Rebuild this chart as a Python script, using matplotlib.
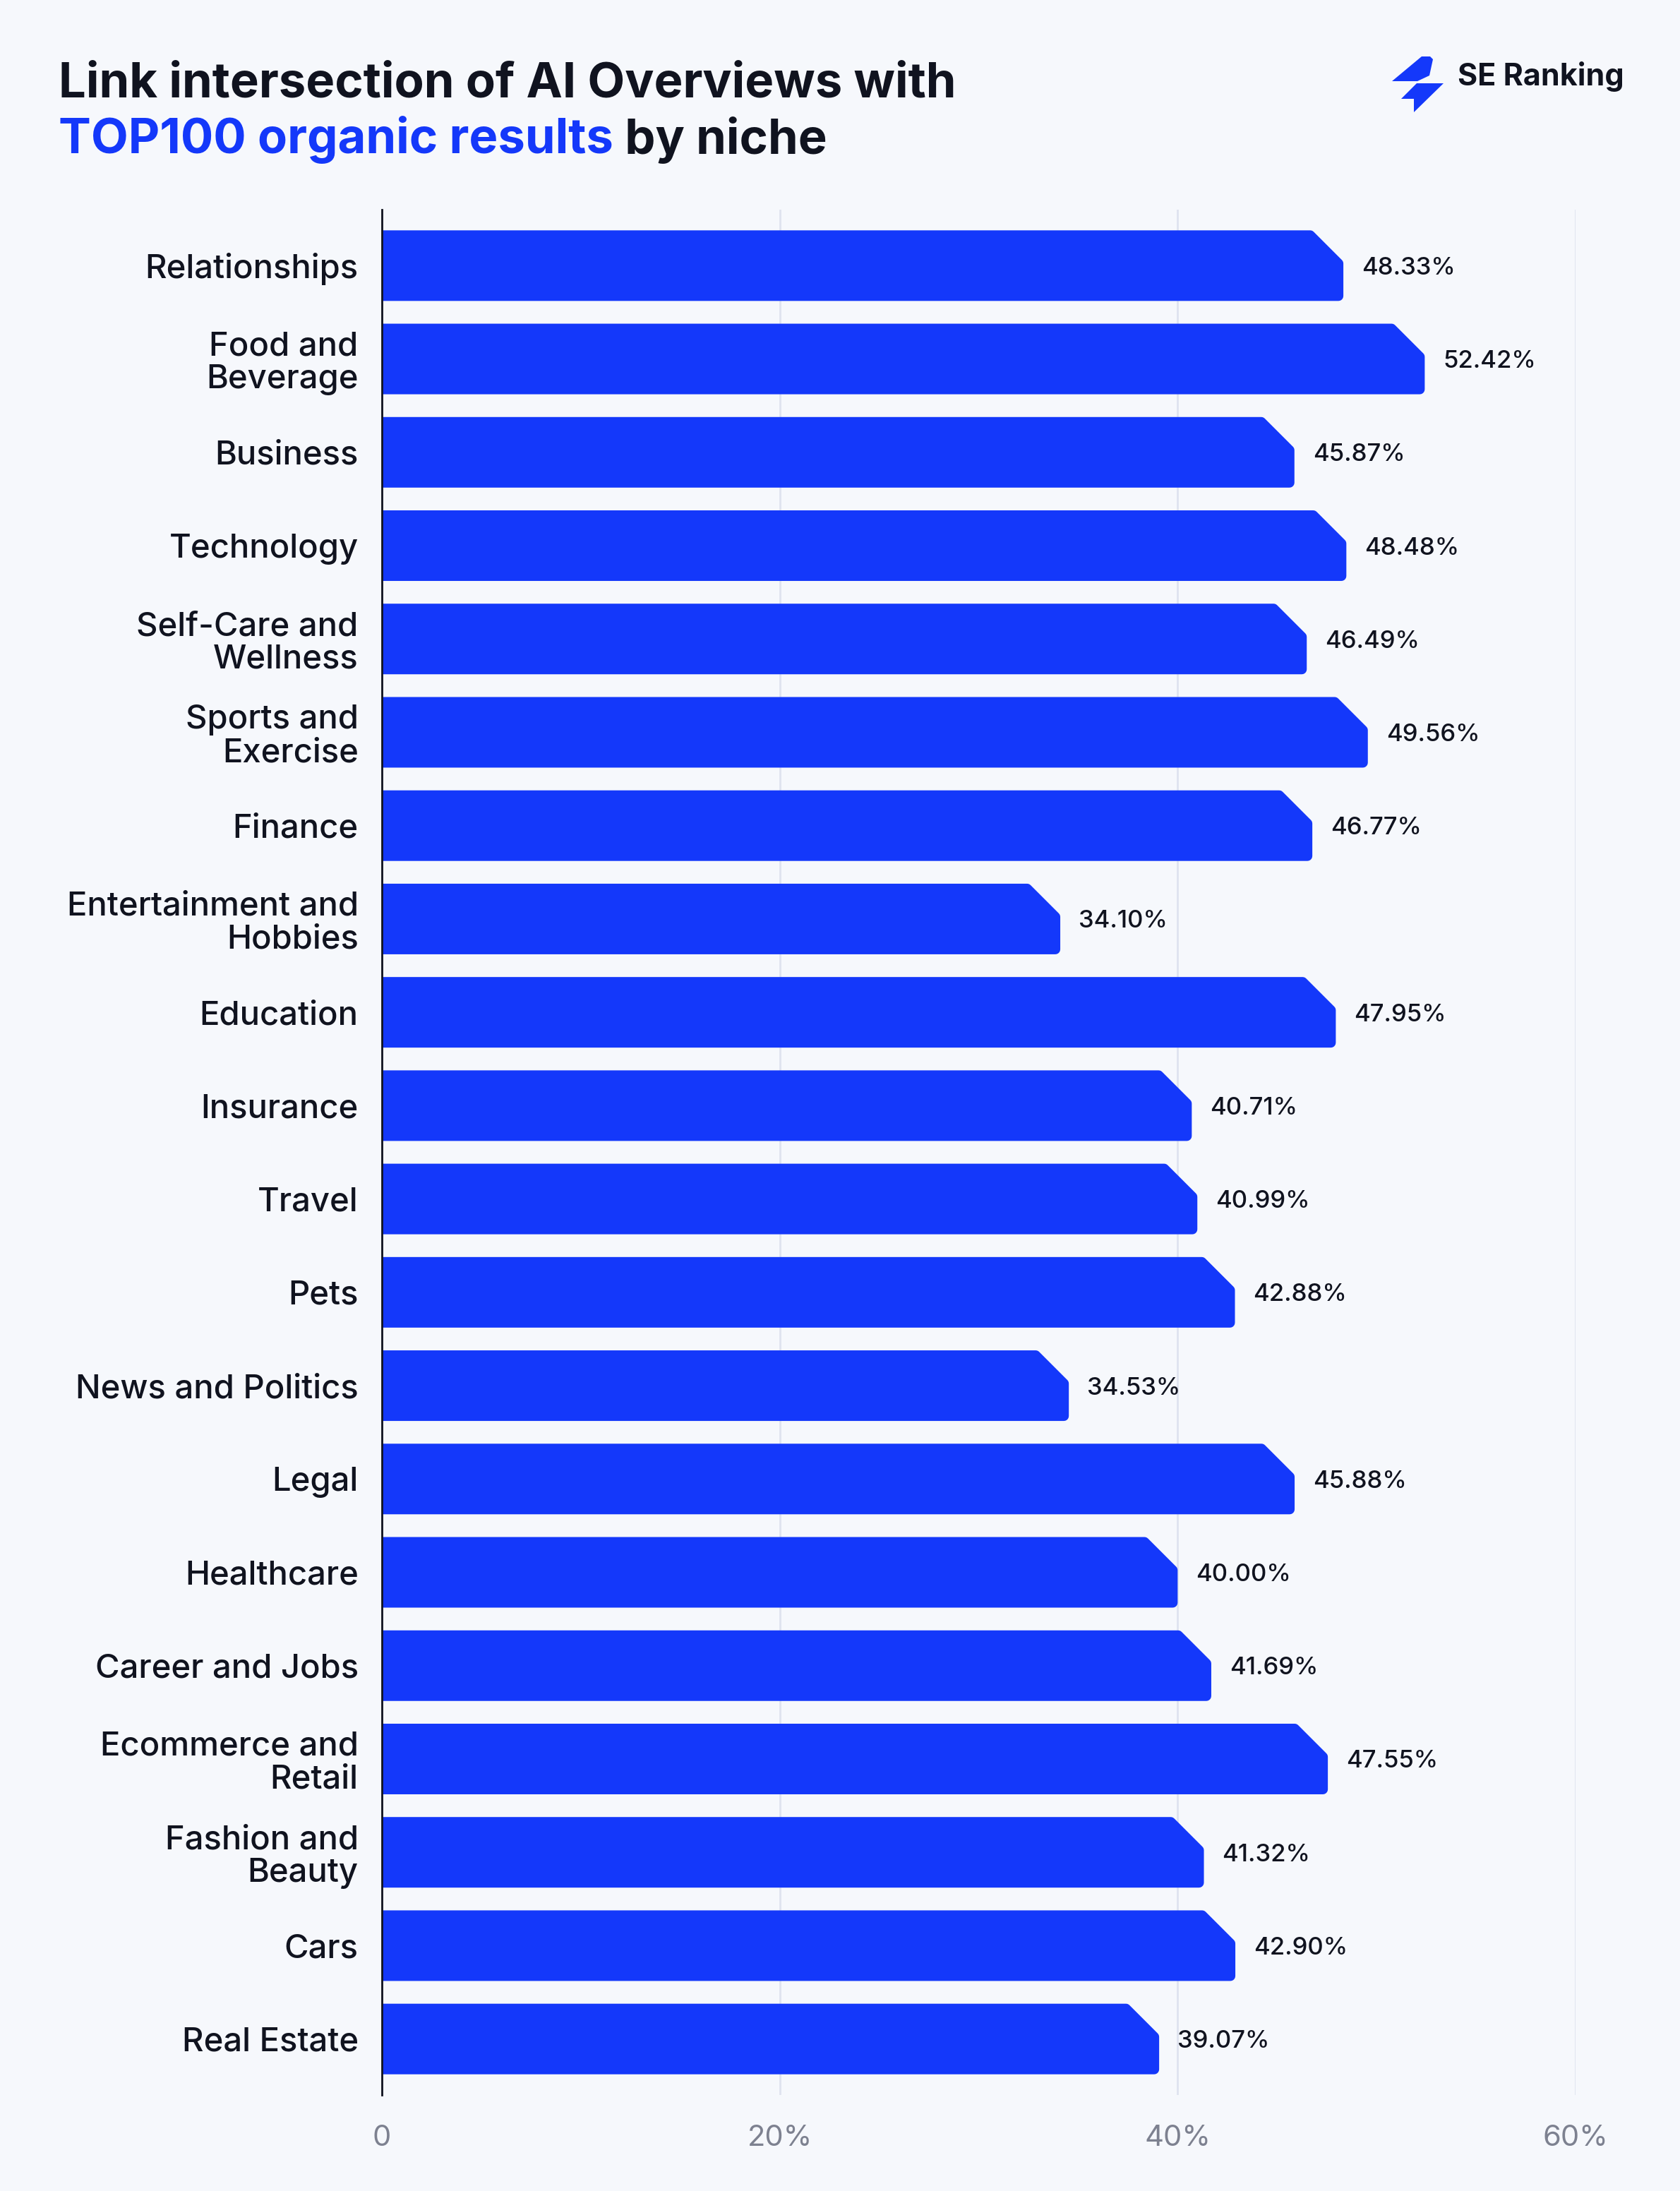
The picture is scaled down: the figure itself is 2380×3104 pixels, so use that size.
import matplotlib
matplotlib.use("Agg")
import matplotlib.pyplot as plt
from matplotlib.patches import Polygon
from matplotlib.ticker import FixedLocator
import numpy as np

plt.rcParams['font.family'] = ['Inter', 'DejaVu Sans']

niches = [
	"Relationships", "Food and\nBeverage", "Business", "Technology",
	"Self-Care and\nWellness", "Sports and\nExercise", "Finance",
	"Entertainment and\nHobbies", "Education", "Insurance", "Travel", "Pets",
	"News and Politics", "Legal", "Healthcare", "Career and Jobs",
	"Ecommerce and\nRetail", "Fashion and\nBeauty", "Cars", "Real Estate",
]
values = [48.33, 52.42, 45.87, 48.48, 46.49, 49.56, 46.77, 34.10, 47.95, 40.71,
	40.99, 42.88, 34.53, 45.88, 40.00, 41.69, 47.55, 41.32, 42.90, 39.07]
x_ticks = [0, 20, 40, 60]
x_tick_labels = ["0", "20%", "40%", "60%"]

BG = "#F6F8FC"
BLUE = "#1438FA"
DARK = "#10131F"
GRID = "#DFE3EF"
GRAY = "#7D8190"

W, H = 2380, 3104
fig = plt.figure(figsize=(W / 100, H / 100), dpi=100, facecolor=BG)
ax_left, ax_right = 541 / W, 2232 / W
ax_top, ax_bot = 1 - 297 / H, 1 - 2968 / H
ax = fig.add_axes([ax_left, ax_bot, ax_right - ax_left, ax_top - ax_bot])
ax.set_facecolor(BG)

ax.set_xlim(0, 60)
ax.set_ylim(len(niches) - 0.4, -0.6)

# pixel -> data scale
px_x = (ax_right - ax_left) * W / 60
px_y = (ax_top - ax_bot) * H / (len(niches) - 0.4 + 0.6)

bar_h = 100 / px_y
cut = 40
lw_px = 14
inx = lw_px / 2 / px_x
iny = lw_px / 2 / px_y
cx = cut / px_x
cy = cut / px_y

ypos = np.arange(len(niches))
for y, v in zip(ypos, values):
	top = y - bar_h / 2 + iny
	bot = y + bar_h / 2 - iny
	right = v - inx
	pts = [(0, top), (right - cx, top), (right, top + cy), (right, bot), (0, bot)]
	ax.add_patch(Polygon(pts, closed=True, facecolor=BLUE, edgecolor=BLUE,
		linewidth=lw_px * 0.72, joinstyle='round', zorder=3))
	ax.text(v + 26 / px_x, y, f"{v:.2f}%", va='center_baseline', ha='left',
		fontsize=25, color=DARK, fontweight='medium', zorder=4)

# grid
ax.xaxis.set_major_locator(FixedLocator(x_ticks))
ax.set_xticklabels(x_tick_labels)
ax.grid(axis='x', color=GRID, linewidth=2, zorder=0)
ax.set_axisbelow(True)
for s in ['top', 'right', 'bottom']:
	ax.spines[s].set_visible(False)
ax.spines['left'].set_color(DARK)
ax.spines['left'].set_linewidth(2)
ax.spines['left'].set_zorder(5)

ax.set_yticks(ypos)
ax.set_yticklabels(niches, fontsize=34, color=DARK, fontweight='medium', linespacing=1.08)
ax.tick_params(axis='y', length=0, pad=24)
ax.tick_params(axis='x', length=0, pad=30, labelsize=30, labelcolor=GRAY)

# title
t1 = fig.text(83 / W, 1 - 120 / H, "Link intersection of AI Overviews with",
	fontsize=49.5, fontweight='bold', color=DARK, va='center', ha='left')
t2 = fig.text(83 / W, 1 - 198 / H, "TOP100 organic results",
	fontsize=49.5, fontweight='bold', color=BLUE, va='center', ha='left')
renderer = fig.canvas.get_renderer()
bb = t2.get_window_extent(renderer)
fig.text(bb.x1 / W, 1 - 198 / H, " by niche",
	fontsize=49.5, fontweight='bold', color=DARK, va='center', ha='left')

# logo
fig.text(2065 / W, 1 - 108 / H, "SE Ranking", fontsize=31, fontweight='bold',
	color=DARK, va='center', ha='left')
logo_a = [(1972, 115), (2014, 80), (2026, 80), (2030, 84), (2025, 107), (2008, 115)]
logo_b = [(2045, 118), (2007, 118), (1985, 140), (2003, 140), (2003, 159)]
for shape in (logo_a, logo_b):
	fig.patches.append(Polygon([(x / W, 1 - y / H) for x, y in shape], closed=True,
		transform=fig.transFigure, facecolor=BLUE, edgecolor='none'))

fig.savefig("out.png", dpi=100, facecolor=BG)
